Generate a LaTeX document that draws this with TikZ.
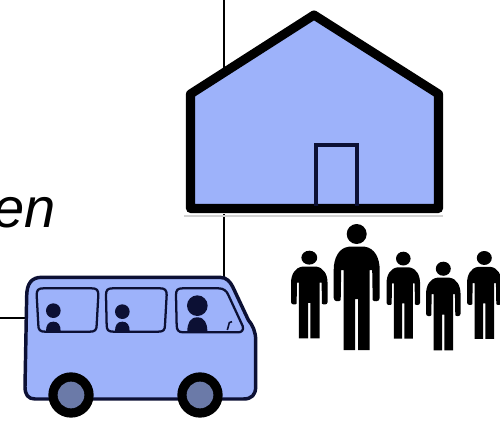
\documentclass[tikz,border=0pt]{standalone}
\usepackage{fontspec}
\setmainfont{Liberation Sans}
\definecolor{fillblue}{RGB}{157,178,250}
\definecolor{wheelblue}{RGB}{107,122,168}
\definecolor{navy}{RGB}{12,16,52}
\tikzset{
  conn/.style={line width=1.2pt,black},
  person/.pic={
    \fill[black] (0,10) circle (10);
    \fill[black] (-8,22.7) -- (8,22.7) .. controls (18,24) and (23,34) .. (23,46)
      -- (23,74) .. controls (23,78) and (17,78) .. (16,76) -- (15.5,46)
      -- (13,46) -- (13,126) -- (1.5,126) -- (1.5,75) -- (-1.5,75) -- (-1.5,126) -- (-13,126) -- (-13,46)
      -- (-15.5,46) -- (-16,76) .. controls (-17,78) and (-23,78) .. (-23,74) -- (-23,46)
      .. controls (-23,34) and (-18,24) .. (-8,22.7) -- cycle;
  },
  busline/.style={draw=navy,line width=1.7pt,line join=round}
}
\begin{document}
\begin{tikzpicture}[x=0.75pt,y=-0.75pt]
\useasboundingbox (0,0) rectangle (500,421);
\clip (0,0) rectangle (500,421);
% connector lines
\coordinate (lineTop) at (224,0);
\coordinate (houseRoof) at (224,68);
\coordinate (houseBase) at (224,214);
\coordinate (busTop) at (224,278);
\coordinate (lineLeft) at (0,318);
\coordinate (busLeft) at (27,318);
\draw[conn] (lineTop) -- (houseRoof);
\draw[conn] (houseBase) -- (busTop);
\draw[conn] (lineLeft) -- (busLeft);
% text
\node[anchor=base east,inner sep=0pt,font=\itshape\fontsize{42}{42}\selectfont] (label) at (56,227) {en};
% house
\draw[gray!35,line width=1.5pt] (184,216) -- (443,216);
\draw[black,fill=fillblue,line width=6.8pt,line join=round] (190.5,94) -- (314,15) -- (438.5,94) -- (438.5,208.5) -- (190.5,208.5) -- cycle;
\draw[navy,line width=3pt] (316,206) -- (316,145) -- (357,145) -- (357,206);
% bus
\begin{scope}[scale=1/3,shift={(0,780)}]
\draw[navy,fill=fillblue,line width=2.6pt,line join=round]
  (80,110) .. controls (80,70) and (95,52) .. (125,52) -- (660,52) .. controls (680,52) and (690,65) .. (698,80)
  -- (745,180) .. controls (758,195) and (767,215) .. (767,240) -- (767,380) .. controls (767,405) and (755,417) .. (730,417)
  -- (105,417) .. controls (85,417) and (75,405) .. (75,380) -- cycle;
\draw[busline] (110,105) .. controls (110,90) and (115,85) .. (130,85) -- (275,85) .. controls (290,85) and (295,90) .. (295,105)
  -- (290,195) .. controls (290,210) and (285,215) .. (270,215) -- (135,215) .. controls (120,215) and (115,210) .. (115,195) -- cycle;
\draw[busline] (318,105) .. controls (318,90) and (323,85) .. (338,85) -- (480,85) .. controls (495,85) and (500,90) .. (500,105)
  -- (495,195) .. controls (495,210) and (490,215) .. (475,215) -- (340,215) .. controls (325,215) and (320,210) .. (320,195) -- cycle;
\draw[busline] (528,105) .. controls (528,90) and (533,85) .. (548,85) -- (655,85) .. controls (670,85) and (680,92) .. (685,105)
  -- (728,198) .. controls (732,210) and (725,217) .. (715,217) -- (550,217) .. controls (535,217) and (530,210) .. (530,195) -- cycle;
\fill[navy] (160,152) circle (22);
\fill[navy] (138,214) .. controls (138,195) and (145,185) .. (160,185) .. controls (175,185) and (182,195) .. (182,214) -- cycle;
\fill[navy] (367,155) circle (22);
\fill[navy] (345,214) .. controls (345,195) and (352,185) .. (367,185) .. controls (382,185) and (389,195) .. (389,214) -- cycle;
\fill[navy] (592,137) circle (31);
\fill[navy] (562,214) .. controls (562,190) and (570,172) .. (592,172) .. controls (614,172) and (622,190) .. (622,214) -- cycle;
\draw[navy,line width=1.2pt] (696,185) -- (688,188) -- (682,210);
\fill[black] (213,405) circle (68);
\fill[wheelblue] (213,405) circle (40);
\fill[black] (600,405) circle (68);
\fill[wheelblue] (600,405) circle (40);
\end{scope}
% people
\pic[xscale=0.793,yscale=0.696] at (309.3,250.7) {person};
\pic at (356.7,224) {person};
\pic[xscale=0.729,yscale=0.69] at (403.3,251.7) {person};
\pic[xscale=0.75,yscale=0.704] at (443.3,261.7) {person};
\pic[xscale=0.75,yscale=0.698] at (484.3,251) {person};
\end{tikzpicture}
\end{document}
